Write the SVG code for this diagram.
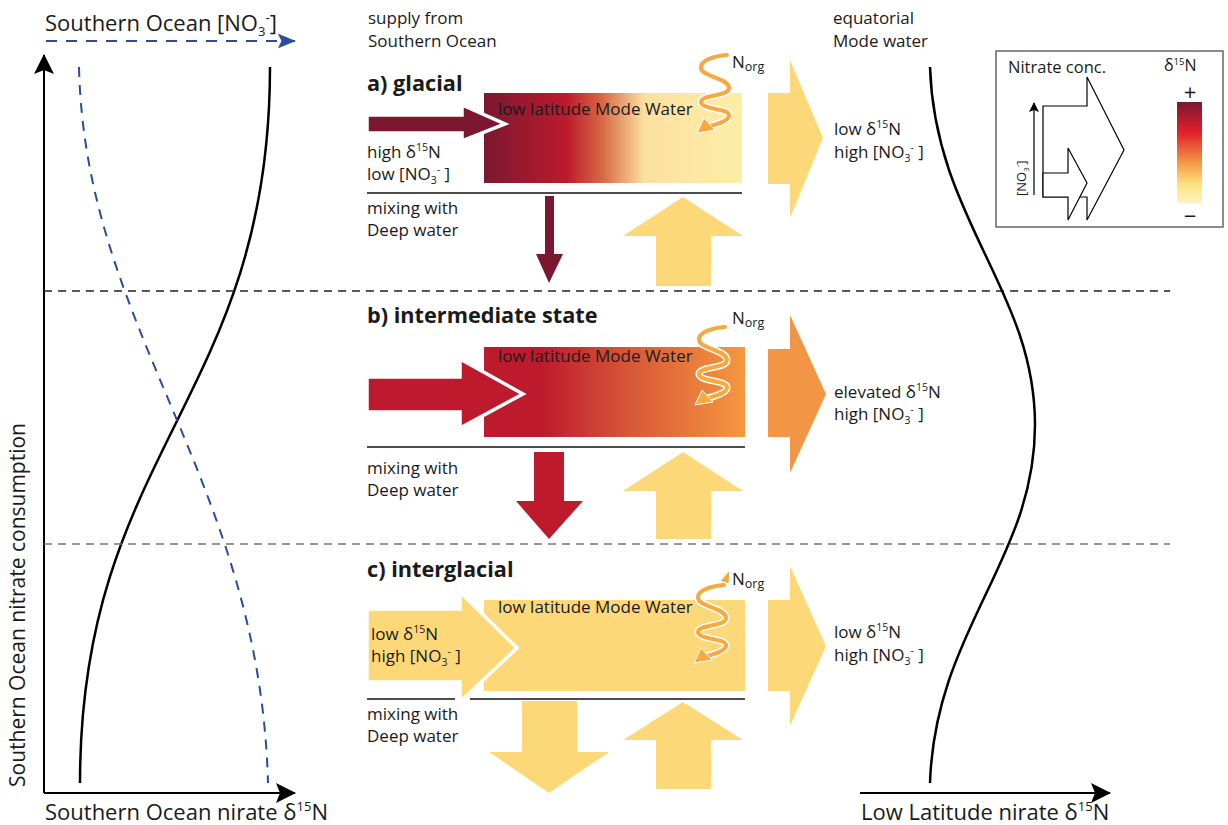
<svg xmlns="http://www.w3.org/2000/svg" width="1228" height="825" viewBox="0 0 1228 825">
<defs>
<style>
text{font-family:"Open Sans","Liberation Sans",sans-serif;fill:#1a1a1a}
.lbl{font-size:17px}
.sm{font-size:17px}
.ttl{font-size:21.7px;font-weight:bold}
.ax{font-size:22px}
.sup{font-size:10.5px}
.dash{stroke-dasharray:8 6;fill:none;stroke-width:1.3}
.sep{stroke:#111;stroke-width:1.5}
.maroon{fill:#7b1830}
.crim{fill:#bd1a2d}
.yel{fill:#fdd879}
.org{fill:#f29544}
.wOut{fill:none;stroke:#fff;stroke-width:7;stroke-linecap:round}
.wIn{fill:none;stroke:#f7a940;stroke-width:4;stroke-linecap:round}
</style>
<marker id="ah" viewBox="0 0 10 10" refX="9" refY="5" markerWidth="10" markerHeight="10" markerUnits="userSpaceOnUse" orient="auto"><path d="M0,0 L10,5 L0,10 L2,5 Z" fill="#000"/></marker>
<marker id="ahL" viewBox="0 0 20 20" refX="19" refY="10" markerWidth="20" markerHeight="20" markerUnits="userSpaceOnUse" orient="auto"><path d="M0,0 L20,10 L0,20 L4,10 Z" fill="#000"/></marker>
<marker id="ahB" viewBox="0 0 20 20" refX="19" refY="10" markerWidth="18" markerHeight="18" markerUnits="userSpaceOnUse" orient="auto"><path d="M0,2 L20,10 L0,18 L4,10 Z" fill="#2b4c9b"/></marker>
<linearGradient id="gA" x1="0" y1="0" x2="1" y2="0">
<stop offset="0" stop-color="#7a1830"/><stop offset="0.32" stop-color="#bd1a2d"/><stop offset="0.46" stop-color="#d76a45"/><stop offset="0.62" stop-color="#fbe0a0"/><stop offset="1" stop-color="#fdeea6"/>
</linearGradient>
<linearGradient id="gB" x1="0" y1="0" x2="1" y2="0">
<stop offset="0" stop-color="#bd1a2d"/><stop offset="0.22" stop-color="#bd1a2d"/><stop offset="0.58" stop-color="#d95b38"/><stop offset="1" stop-color="#f5983f"/>
</linearGradient>
<linearGradient id="gL" x1="0" y1="0" x2="0" y2="1">
<stop offset="0" stop-color="#7a1830"/><stop offset="0.3" stop-color="#e3202a"/><stop offset="0.6" stop-color="#f39a45"/><stop offset="0.8" stop-color="#fde07c"/><stop offset="1" stop-color="#fff5c8"/>
</linearGradient>
<g id="wave">
<path class="wOut" d="M727,55 C715,56 700,60 701,68 C702,77 729,78 729,88 C729,97 701,94 701,102 C701,110 731,108 729,116 C728,121 718,124 710,126"/>
<path class="wIn" d="M727,55 C715,56 700,60 701,68 C702,77 729,78 729,88 C729,97 701,94 701,102 C701,110 731,108 729,116 C728,121 718,124 710,126"/>
<polygon points="697,133 704,118 715,130" fill="#f7a940" stroke="#fff" stroke-width="1"/>
</g>
</defs>

<rect width="1228" height="825" fill="#fff"/>

<!-- left chart -->
<g id="left-chart">
<text class="ax" x="45" y="31">Southern Ocean [NO<tspan font-size="13" dy="5">3</tspan><tspan font-size="13" dy="-14">-</tspan><tspan dy="9">]</tspan></text>
<line x1="46" y1="41" x2="295" y2="41" stroke="#2b4c9b" stroke-width="2" stroke-dasharray="11 9" marker-end="url(#ahB)"/>
<line x1="44" y1="793" x2="44" y2="55" stroke="#000" stroke-width="2" marker-end="url(#ahL)"/>
<line x1="44" y1="793" x2="295" y2="793" stroke="#000" stroke-width="2" marker-end="url(#ahL)"/>
<path d="M80,783 C80,450 270,400 270,67" fill="none" stroke="#000" stroke-width="2.5"/>
<path d="M79,67 C85,330 260,480 268,783" fill="none" stroke="#2b4c9b" stroke-width="2" stroke-dasharray="10 8"/>
<text font-size="21" transform="translate(25,787) rotate(-90)" x="0" y="0">Southern Ocean nitrate consumption</text>
<text class="ax" x="45" y="820">Southern Ocean nirate δ<tspan font-size="13" dy="-9">15</tspan><tspan dy="9">N</tspan></text>
</g>

<!-- separators -->
<g id="dividers">
<line class="dash" x1="44" y1="291" x2="1170" y2="291" stroke="#222"/>
<line class="dash" x1="44" y1="544" x2="1170" y2="544" stroke="#777"/>
</g>

<!-- headers -->
<g id="headers">
<text class="sm" x="368" y="24">supply from</text>
<text class="sm" x="368" y="47">Southern Ocean</text>
<text class="sm" x="833" y="24">equatorial</text>
<text class="sm" x="833" y="47">Mode water</text>
</g>

<!-- panel a -->
<g id="panel-a">
<text class="ttl" x="367" y="91">a) glacial</text>
<rect x="484" y="93" width="258" height="90" fill="url(#gA)"/>
<text class="lbl" x="498" y="115">low latitude Mode Water</text>
<polygon class="maroon" points="367,115 462,115 462,105 505,124 462,141 462,133 367,133" stroke="#fff" stroke-width="3.5" stroke-linejoin="miter"/>
<text class="lbl" x="367" y="158">high δ<tspan class="sup" dy="-7">15</tspan><tspan dy="7">N</tspan></text>
<text class="lbl" x="367" y="180">low [NO<tspan class="sup" dy="4">3</tspan><tspan class="sup" dy="-11">-</tspan><tspan dy="7"> ]</tspan></text>
<line class="sep" x1="367" y1="193" x2="742" y2="193"/>
<text class="sm" x="367" y="214">mixing with</text>
<text class="sm" x="367" y="236">Deep water</text>
<polygon class="maroon" points="545,196 554,196 554,254 563,254 549,283 536,254 545,254"/>
<polygon class="yel" points="683,197 743,236 711,236 711,286 656,286 656,236 623,236"/>
<polygon class="yel" points="768,93 790,93 790,60 823,138 790,218 790,184 768,184"/>
<text class="lbl" x="834" y="135">low δ<tspan class="sup" dy="-7">15</tspan><tspan dy="7">N</tspan></text>
<text class="lbl" x="834" y="158">high [NO<tspan class="sup" dy="4">3</tspan><tspan class="sup" dy="-11">-</tspan><tspan dy="7"> ]</tspan></text>
<use href="#wave"/>
<text class="lbl" x="732" y="68">N<tspan font-size="12.5" dy="3">org</tspan></text>
</g>

<!-- panel b -->
<g id="panel-b">
<text class="ttl" x="367" y="323">b) intermediate state</text>
<rect x="484" y="347" width="261" height="90" fill="url(#gB)"/>
<text class="lbl" x="498" y="362">low latitude Mode Water</text>
<polygon class="crim" points="367,377 460,377 460,359 523,394 460,428 460,412 367,412" stroke="#fff" stroke-width="3.5"/>
<line class="sep" x1="367" y1="447" x2="745" y2="447" stroke="#333"/>
<text class="sm" x="367" y="474">mixing with</text>
<text class="sm" x="367" y="496">Deep water</text>
<polygon class="crim" points="534,452 564,452 564,501 583,501 549,539 516,501 534,501"/>
<polygon class="yel" points="683,452 743,491 711,491 711,539 656,539 656,491 623,491"/>
<polygon class="org" points="768,349 790,349 790,315 826,394 790,473 790,437 768,437"/>
<text class="lbl" x="834" y="398">elevated δ<tspan class="sup" dy="-7">15</tspan><tspan dy="7">N</tspan></text>
<text class="lbl" x="834" y="420">high [NO<tspan class="sup" dy="4">3</tspan><tspan class="sup" dy="-11">-</tspan><tspan dy="7"> ]</tspan></text>
<use href="#wave" transform="translate(-2,272)"/>
<text class="lbl" x="732" y="324">N<tspan font-size="12.5" dy="3">org</tspan></text>
</g>

<!-- panel c -->
<g id="panel-c">
<text class="ttl" x="367" y="577">c) interglacial</text>
<rect class="yel" x="484" y="600" width="261" height="91"/>
<text class="lbl" x="498" y="613">low latitude Mode Water</text>
<polygon class="yel" points="367,609 460,609 460,592 517,648 460,702 460,682 367,682" stroke="#fff" stroke-width="3.5"/>
<text class="lbl" x="371" y="640">low δ<tspan class="sup" dy="-7">15</tspan><tspan dy="7">N</tspan></text>
<text class="lbl" x="371" y="662">high [NO<tspan class="sup" dy="4">3</tspan><tspan class="sup" dy="-11">-</tspan><tspan dy="7"> ]</tspan></text>
<line class="sep" x1="367" y1="699" x2="455" y2="699"/>
<line class="sep" x1="470" y1="699" x2="745" y2="699"/>
<text class="sm" x="367" y="720">mixing with</text>
<text class="sm" x="367" y="742">Deep water</text>
<polygon class="yel" points="522,701 577,701 577,752 609,752 549,793 489,752 522,752"/>
<polygon class="yel" points="683,702 743,740 711,740 711,789 656,789 656,740 623,740"/>
<polygon class="yel" points="768,600 790,600 790,566 826,646 790,726 790,691 768,691"/>
<text class="lbl" x="834" y="638">low δ<tspan class="sup" dy="-7">15</tspan><tspan dy="7">N</tspan></text>
<text class="lbl" x="834" y="661">high [NO<tspan class="sup" dy="4">3</tspan><tspan class="sup" dy="-11">-</tspan><tspan dy="7"> ]</tspan></text>
<use href="#wave" transform="translate(-3,530)"/>
<polygon points="730,570 720,581 729,584" fill="#f7a940" stroke="#fff" stroke-width="1"/>
<text class="lbl" x="732" y="585">N<tspan font-size="12.5" dy="3">org</tspan></text>
</g>

<!-- right chart -->
<g id="right-chart">
<line x1="860" y1="793" x2="1110" y2="793" stroke="#000" stroke-width="2" marker-end="url(#ahL)"/>
<path d="M930,67 C935,220 1035,290 1035,425 C1035,560 935,630 930,783" fill="none" stroke="#000" stroke-width="2.5"/>
<text class="ax" x="861" y="820">Low Latitude nirate δ<tspan font-size="13" dy="-9">15</tspan><tspan dy="9">N</tspan></text>
</g>

<!-- legend -->
<g id="legend">
<rect x="996" y="51" width="227" height="176" fill="#fff" stroke="#666" stroke-width="1.5"/>
<text font-size="16.5" x="1008" y="73">Nitrate conc.</text>
<text font-size="16" x="1164" y="71">δ<tspan font-size="9.5" dy="-6">15</tspan><tspan dy="6">N</tspan></text>
<text x="1190" y="100" font-size="22" text-anchor="middle">+</text>
<text x="1190" y="224" font-size="22" text-anchor="middle">−</text>
<rect x="1177" y="102" width="25" height="102" fill="url(#gL)"/>
<polygon points="1043,106 1087,106 1087,77 1124,150 1087,220 1087,197 1043,197" fill="none" stroke="#000" stroke-width="1.2"/>
<polygon points="1043,173 1068,173 1068,148 1087,183 1068,220 1068,197 1043,197" fill="#fff" stroke="#000" stroke-width="1.2"/>
<line x1="1034" y1="195" x2="1034" y2="103" stroke="#000" stroke-width="1.2" marker-end="url(#ah)"/>
<text font-size="13" transform="translate(1026,196) rotate(-90)">[NO<tspan font-size="8" dy="3">3</tspan><tspan font-size="8" dy="-9">-</tspan><tspan dy="6">]</tspan></text>
</g>
</svg>
